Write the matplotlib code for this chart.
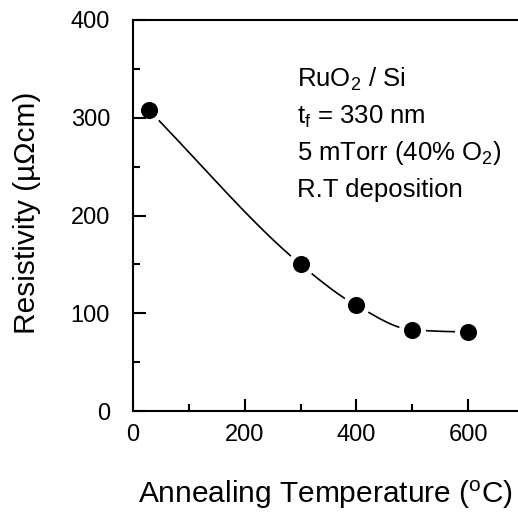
import numpy as np
import matplotlib
matplotlib.use("Agg")
import matplotlib.pyplot as plt
from matplotlib.ticker import MultipleLocator

plt.rcParams['font.family'] = ['Liberation Sans', 'DejaVu Sans']
plt.rcParams['mathtext.fontset'] = 'custom'
plt.rcParams['mathtext.rm'] = 'Liberation Sans'
plt.rcParams['mathtext.it'] = 'Liberation Sans'

# Annealing temperature (°C) and film resistivity (µΩ·cm)
temperature = [28, 300, 400, 500, 600]
resistivity = [308, 150, 108, 83, 81]

notes = ["RuO$_2$ / Si", "t$_{\\rm f}$ = 330 nm", "5 mTorr (40% O$_2$)", "R.T deposition"]


def pchip(x, y, xs):
    """Shape-preserving cubic Hermite guide curve through the measured points."""
    x = np.asarray(x, float)
    y = np.asarray(y, float)
    h = np.diff(x)
    d = np.diff(y) / h
    m = np.zeros_like(y)
    for k in range(1, len(x) - 1):
        if d[k - 1] * d[k] > 0:
            w1 = 2 * h[k] + h[k - 1]
            w2 = h[k] + 2 * h[k - 1]
            m[k] = (w1 + w2) / (w1 / d[k - 1] + w2 / d[k])
    m[0] = d[0]
    m[-1] = 0.0
    out = np.empty_like(xs)
    for i, xv in enumerate(xs):
        k = min(np.searchsorted(x, xv, side='right') - 1, len(x) - 2)
        k = max(k, 0)
        t = (xv - x[k]) / h[k]
        h00 = 2 * t**3 - 3 * t**2 + 1
        h10 = t**3 - 2 * t**2 + t
        h01 = -2 * t**3 + 3 * t**2
        h11 = t**3 - t**2
        out[i] = h00 * y[k] + h10 * h[k] * m[k] + h01 * y[k + 1] + h11 * h[k] * m[k + 1]
    return out


fig = plt.figure(figsize=(5.18, 5.15), dpi=100)
ax = fig.add_axes([133 / 518, 104 / 515, 391 / 518, 391 / 515])

xs = np.linspace(temperature[0], temperature[-1], 400)
ax.plot(xs, pchip(temperature, resistivity, xs), color='black', lw=1.2, zorder=1)
# white halo breaks the guide curve around each point; ticks stay visible over it
ax.plot(temperature, resistivity, 'o', ms=19.5, mfc='white', mec='none',
        zorder=1.5, clip_on=False)
ax.plot(temperature, resistivity, 'o', ms=12.3, mfc='black', mec='none',
        zorder=3, clip_on=False)

ax.set_xlim(0, 700)
ax.set_ylim(0, 400)
ax.xaxis.set_major_locator(MultipleLocator(200))
ax.xaxis.set_minor_locator(MultipleLocator(100))
ax.yaxis.set_major_locator(MultipleLocator(100))
ax.yaxis.set_minor_locator(MultipleLocator(50))
ax.tick_params(which='both', direction='in', top=False, right=False,
               width=1.5, labelsize=17, colors='black')
ax.tick_params(which='major', length=9)
ax.tick_params(which='minor', length=5)
ax.tick_params(axis='y', which='major', pad=16.5)
ax.tick_params(axis='x', which='major', pad=9.5)

for side in ['left', 'bottom', 'top']:
    ax.spines[side].set_linewidth(1.5)
    ax.spines[side].set_zorder(2.6)
ax.spines['right'].set_visible(False)

ax.set_xlabel("Annealing Temperature ($^{\\rm o}$C)", fontsize=21.5, va='center')
ax.xaxis.set_label_coords((325 - 133) / 391, -(495 - 411) / 391)
ax.set_ylabel("Resistivity (µΩcm)", fontsize=21.5, va='center')
ax.yaxis.set_label_coords((27 - 133) / 391, (411 - 213) / 391)

baselines = [87, 123.5, 160, 196.5]
for t, yb in zip(notes, baselines):
    fig.text(297 / 518, 1 - yb / 515, t, fontsize=18.5, ha='left', va='baseline')

fig.savefig("out.png", dpi=100)
